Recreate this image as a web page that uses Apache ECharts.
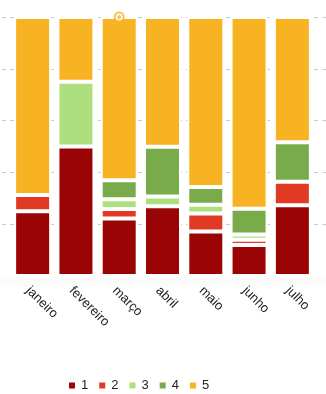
<!DOCTYPE html>
<html>
<head>
<meta charset="utf-8">
<script src="https://cdn.jsdelivr.net/npm/echarts@6/dist/echarts.min.js"></script>
<style>
  html, body { margin: 0; padding: 0; background: #fff; }
  #chart { width: 326px; height: 394px; }
</style>
</head>
<body>
<div id="chart"></div>
<script>
// Months shown on the category axis
const months = ['janeiro', 'fevereiro', 'março', 'abril', 'maio', 'junho', 'julho'];

// Share (%) of each rating per month, stacked to 100
const rating1 = [25.0, 50.0, 22.2, 26.9, 17.2, 12.0, 27.3];
const rating2 = [6.3, 0, 3.7, 0, 6.9, 2.0, 9.1];
const rating3 = [0, 25.0, 3.7, 3.8, 3.4, 2.0, 0];
const rating4 = [0, 0, 7.4, 19.2, 6.9, 10.0, 15.2];
const rating5 = [68.7, 25.0, 63.0, 50.1, 65.6, 74.0, 48.4];

const ratingNames = ['1', '2', '3', '4', '5'];
const ratingColors = ['#9b0404', '#e03a24', '#aedf7f', '#7aab4a', '#f8b323'];

// Highlighted point on top of a stack
const highlightPoint = [['março', 100]];

const seriesValues = [rating1, rating2, rating3, rating4, rating5];

const chart = echarts.init(document.getElementById('chart'), null, { renderer: 'canvas' });

const barSeries = seriesValues.map((vals, i) => ({
  name: ratingNames[i],
  type: 'bar',
  stack: 'total',
  xAxisIndex: 1,
  yAxisIndex: 1,
  barWidth: 37,
  data: vals.map(v => (v === 0 ? '-' : v)),
  itemStyle: { color: ratingColors[i], borderColor: '#ffffff', borderWidth: 2 },
  emphasis: { disabled: true }
}));

chart.setOption({
  animation: false,
  backgroundColor: '#ffffff',
  // faint strip just under the plot area
  graphic: [{
    type: 'rect',
    shape: { x: 0, y: 277, width: 326, height: 10 },
    style: { fill: '#fbfbfb' },
    z: 0,
    silent: true
  }],
  legend: {
    data: ratingNames,
    left: 62,
    top: 374,
    itemWidth: 8,
    itemHeight: 8,
    itemGap: 9,
    icon: 'rect',
    textStyle: { color: '#222', fontSize: 13, fontFamily: 'Liberation Sans, Arial, sans-serif' }
  },
  grid: [
    { left: 2, right: 0, top: 17, bottom: 170 },
    { left: 11, right: 12, top: 17, bottom: 118 }
  ],
  xAxis: [
    { type: 'category', gridIndex: 0, data: months, show: false },
    {
      type: 'category',
      gridIndex: 1,
      data: months,
      axisLine: { show: false },
      axisTick: { show: false },
      axisLabel: {
        rotate: -45,
        margin: 8,
        verticalAlign: 'top',
        color: '#222',
        fontSize: 13,
        fontFamily: 'Liberation Sans, Arial, sans-serif'
      }
    }
  ],
  yAxis: [
    {
      type: 'value',
      gridIndex: 0,
      min: 20,
      max: 100,
      interval: 20,
      axisLabel: { show: false },
      axisLine: { show: false },
      axisTick: { show: false },
      splitLine: { show: true, lineStyle: { color: '#cccccc', width: 1, type: [4, 4] } }
    },
    {
      type: 'value',
      gridIndex: 1,
      min: 0,
      max: 100,
      interval: 20,
      show: false,
      splitLine: { show: false }
    }
  ],
  series: barSeries.concat([
    {
      type: 'scatter',
      xAxisIndex: 1,
      yAxisIndex: 1,
      symbol: 'circle',
      symbolSize: 9,
      data: highlightPoint,
      itemStyle: { color: '#ffffff', borderColor: '#f8b323', borderWidth: 2 },
      z: 5,
      silent: true
    },
    {
      type: 'scatter',
      xAxisIndex: 1,
      yAxisIndex: 1,
      symbol: 'circle',
      symbolSize: 4,
      data: highlightPoint,
      itemStyle: { color: '#f8b323' },
      z: 6,
      silent: true
    }
  ])
});
</script>
</body>
</html>
